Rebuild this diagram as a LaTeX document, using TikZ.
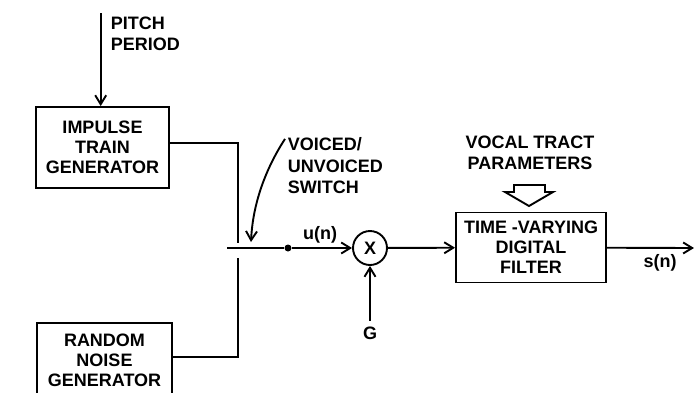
\documentclass[tikz,border=0pt]{standalone}
\usepackage{fontspec}
\setmainfont{Liberation Sans}
\usetikzlibrary{arrows.meta}
\begin{document}
\begin{tikzpicture}[x=1pt,y=-1pt,
  line width=1.9pt,
  lbl/.style={font=\bfseries\fontsize{18}{21.5}\selectfont, align=left, inner sep=0pt},
  blk/.style={draw, font=\bfseries\fontsize{18}{20}\selectfont, align=center, inner sep=0pt, minimum width=133pt, minimum height=81pt},
  arr/.style={-{Straight Barb[length=9pt,width=11pt,line width=1.9pt]}},
]
\useasboundingbox (0,0) rectangle (694,392);
% blocks
\node[blk] (imp) at (102.5,147.5) {IMPULSE\\TRAIN\\GENERATOR};
\node[blk, minimum width=135pt, minimum height=74pt] (rnd) at (104.5,360) {RANDOM\\NOISE\\GENERATOR};
\node[blk, minimum width=150pt, minimum height=70pt] (flt) at (531,247.5) {TIME -VARYING\\DIGITAL\\FILTER};
\node[circle, draw, minimum size=34pt, inner sep=0pt, font=\bfseries\fontsize{18}{20}\selectfont] (mul) at (370,248) {X};
\node[circle, fill, inner sep=0pt, minimum size=7pt] (dot) at (288,248) {};
% labels
\node[lbl, anchor=west] (pitch) at (110,34) {PITCH\\PERIOD};
\node[lbl, anchor=west] (vsw) at (287,166) {VOICED/\\UNVOICED\\SWITCH};
\node[lbl, align=center] (voc) at (530,153) {VOCAL TRACT\\PARAMETERS};
\node[lbl] (un) at (320,235) {u(n)};
\node[lbl] (sn) at (660,263) {s(n)};
\node[lbl] (g) at (370,333) {G};
% coordinates
\coordinate (ptop) at (100.7,13);
\coordinate (swtop) at (238,243);
\coordinate (swbot) at (238,258);
\coordinate (swin) at (227,248);
\coordinate (out) at (694,248);
\coordinate (swtip) at (251,242);
% connectors
\draw[arr] (ptop) -- (ptop |- imp.north);
\draw ([yshift=4.5pt]imp.east) -| (swtop);
\draw ([yshift=3pt]rnd.east) -| (swbot);
\draw (swin) -- (dot);
\draw[arr] (dot) -- (mul);
\draw[arr] (mul) -- (flt);
\draw[arr] (flt) -- (out);
\draw[arr, shorten <=5pt] (g.north) -- (mul);
\draw[arr] ([xshift=-2pt,yshift=-2pt]vsw.north west) .. controls (268,165) and (253,200) .. (swtip);
% hollow arrow for parameters
\draw[line join=miter] (514,185) -- (545,185) -- (545,192) -- (553,192) -- (529,206) -- (505,192) -- (514,192) -- cycle;
\end{tikzpicture}
\end{document}
